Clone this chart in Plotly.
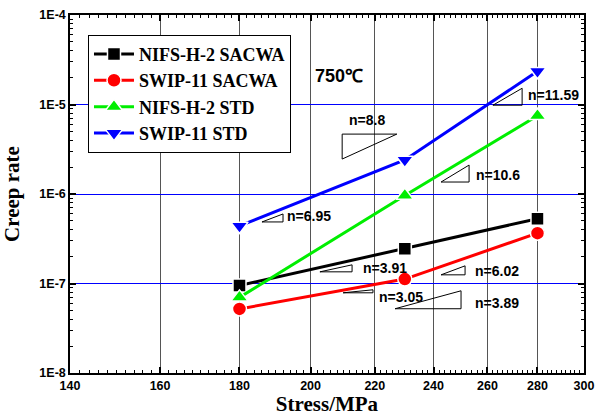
import numpy as np
import plotly.graph_objects as go

# Creep rate vs. applied stress at 750 °C
stress = [180, 230, 280]
nifs_sacwa = [9.5e-8, 2.45e-7, 5.3e-7]
swip_sacwa = [5.2e-8, 1.12e-7, 3.65e-7]
nifs_std = [7.0e-8, 9.6e-7, 7.5e-6]
swip_std = [4.4e-7, 2.4e-6, 2.35e-5]

series_names = ["NIFS-H-2 SACWA", "SWIP-11 SACWA", "NIFS-H-2 STD", "SWIP-11 STD"]
series_values = [nifs_sacwa, swip_sacwa, nifs_std, swip_std]
series_colors = ["#000000", "#ff0000", "#00ee00", "#0000ff"]
series_symbols = ["square", "circle", "triangle-up", "triangle-down"]
series_sizes = [13, 14, 15, 15]

# Stress-exponent labels (text, stress, rate)
n_labels = ["n=8.8", "n=11.59", "n=10.6", "n=6.95", "n=3.91", "n=3.05", "n=6.02", "n=3.89"]
n_label_x = [211.1, 275.4, 254.9, 192.6, 215.5, 220.7, 254.5, 254.5]
n_label_y = [6.68e-6, 1.27e-5, 1.63e-6, 5.69e-7, 1.50e-7, 7.11e-8, 1.385e-7, 6.09e-8]

# Slope triangles (corner stresses, corner rates)
tri_x = [
    [209.6, 227.3, 209.6],
    [262.1, 273.7, 273.7],
    [242.7, 253.0, 253.0],
    [186.1, 192.0, 192.0],
    [202.8, 212.7, 212.7],
    [209.9, 219.4, 219.4],
    [242.7, 251.5, 251.5],
    [226.7, 250.0, 250.0],
]
tri_y = [
    [2.457e-6, 4.67e-6, 4.67e-6],
    [9.82e-6, 9.82e-6, 1.519e-5],
    [1.361e-6, 1.361e-6, 2.105e-6],
    [4.873e-7, 4.873e-7, 5.984e-7],
    [1.350e-7, 1.350e-7, 1.616e-7],
    [7.87e-8, 7.87e-8, 8.506e-8],
    [1.250e-7, 1.250e-7, 1.575e-7],
    [5.224e-8, 5.224e-8, 8.29e-8],
]

temp_label = "750℃"
temp_x, temp_y = 200.7, 2.07e-5

x_ticks = list(range(140, 301, 20))
y_ticks = [1e-8, 1e-7, 1e-6, 1e-5, 1e-4]
y_ticktext = ["1E-8", "1E-7", "1E-6", "1E-5", "1E-4"]

SANS = "Arial, Liberation Sans"
SERIF = "Times New Roman, Liberation Serif"

fig = go.Figure()

for tx, ty in zip(tri_x, tri_y):
    fig.add_trace(go.Scatter(
        x=tx + [tx[0]], y=ty + [ty[0]], mode="lines",
        line=dict(color="black", width=1), showlegend=False, hoverinfo="skip",
    ))

for name, vals, col, sym, sz in zip(series_names, series_values, series_colors,
                                    series_symbols, series_sizes):
    fig.add_trace(go.Scatter(
        x=stress, y=vals, mode="lines+markers", name=f"<b>{name}</b>",
        line=dict(color=col, width=3),
        marker=dict(symbol=sym, size=sz, color=col, line=dict(color="white", width=1.5)),
    ))

annotations = []
for txt, xv, yv in zip(n_labels, n_label_x, n_label_y):
    annotations.append(dict(
        x=np.log10(xv), y=np.log10(yv), xref="x", yref="y", text=f"<b>{txt}</b>",
        showarrow=False, xanchor="left", yanchor="middle",
        font=dict(family=SANS, size=14, color="black"),
    ))
annotations.append(dict(
    x=np.log10(temp_x), y=np.log10(temp_y), xref="x", yref="y", text=f"<b>{temp_label}</b>",
    showarrow=False, xanchor="left", yanchor="middle",
    font=dict(family=SANS, size=18, color="black"),
))

x_minor = [v for v in range(140, 301, 2) if v % 20 != 0]
y_minor = [m * 10.0 ** e for e in range(-8, -4) for m in range(2, 10)]

tick_font = dict(family=SANS, size=12.5, color="black")
title_font = dict(family=SERIF, size=21, color="black")

fig.update_layout(
    width=602, height=416, autosize=False,
    margin=dict(l=70, r=18, t=15, b=43),
    paper_bgcolor="white", plot_bgcolor="white",
    annotations=annotations,
    legend=dict(
        x=0.035, y=0.945, xanchor="left", yanchor="top",
        bgcolor="white", bordercolor="black", borderwidth=1,
        font=dict(family=SERIF, size=18, color="black"),
        tracegroupgap=0, itemwidth=40,
    ),
    xaxis=dict(
        type="log", range=[np.log10(140), np.log10(300)], automargin=False,
        tickvals=x_ticks, ticktext=[f"<b>{v}</b>" for v in x_ticks],
        ticks="inside", ticklen=6, tickwidth=1.5, tickcolor="black",
        showline=True, linecolor="black", linewidth=1.5, mirror="allticks",
        showgrid=True, gridcolor="#555555", gridwidth=1.2,
        tickfont=tick_font, zeroline=False,
        title=dict(text="<b>Stress/MPa</b>", font=title_font),
        minor=dict(tickvals=x_minor, ticks="inside", ticklen=3, tickwidth=1,
                   tickcolor="black", showgrid=False),
    ),
    yaxis=dict(
        type="log", range=[-8, -4], automargin=False,
        tickvals=y_ticks, ticktext=[f"<b>{t}</b>" for t in y_ticktext],
        ticks="inside", ticklen=6, tickwidth=1.5, tickcolor="black",
        showline=True, linecolor="black", linewidth=1.5, mirror="allticks",
        showgrid=True, gridcolor="#0000ff", gridwidth=1.4,
        tickfont=tick_font, zeroline=False,
        title=dict(text="<b>Creep rate</b>", font=title_font),
        minor=dict(tickvals=y_minor, ticks="inside", ticklen=3, tickwidth=1,
                   tickcolor="black", showgrid=False),
    ),
)

fig.write_html("out.html")
